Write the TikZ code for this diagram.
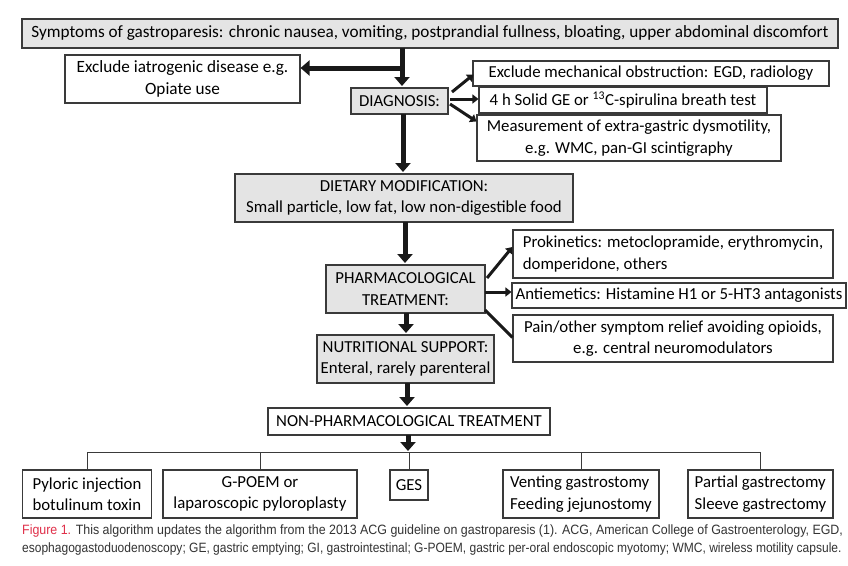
\documentclass[tikz,border=0pt]{standalone}
\usepackage{fontspec}
\setmainfont{Carlito}
\newfontfamily\capfonta[FakeStretch=0.92]{Liberation Sans}
\newfontfamily\capfontb[FakeStretch=0.89]{Liberation Sans}
\usetikzlibrary{arrows.meta,calc}
\definecolor{boxgray}{HTML}{E4E4E4}
\definecolor{edge}{HTML}{3A3A3A}
\definecolor{capred}{HTML}{E0304A}
\definecolor{captext}{HTML}{333333}
\begin{document}
\begin{tikzpicture}[x=1pt,y=-1pt,
  every node/.style={font=\fontsize{16.8}{21.5}\selectfont, inner sep=2pt},
  gbox/.style={draw=edge, line width=1.1pt, fill=boxgray, align=center},
  wbox/.style={draw=edge, line width=1.1pt, fill=white, align=center},
  bigarrow/.style={line width=5pt, draw=black!90, -{Triangle[length=9pt,width=15pt]}},
  thinarrow/.style={line width=3pt, draw=black!90, -{Triangle[length=6pt,width=9pt]}},
  busline/.style={line width=0.8pt, draw=edge},
  captext/.style={anchor=west, inner sep=0pt, text=captext}]
\useasboundingbox (0,0) rectangle (848,565);
\fill[white] (0,0) rectangle (848,565);

\node[gbox, minimum width=816pt, minimum height=29pt, font=\fontsize{17.2}{21}\selectfont] (top) at (430,33.5)
  {Symptoms of gastroparesis: chronic nausea, vomiting, postprandial fullness, bloating, upper abdominal discomfort};
\node[wbox, minimum width=235pt, minimum height=48pt, font=\fontsize{17.2}{22}\selectfont] (iatro) at (182.5,79)
  {Exclude iatrogenic disease e.g.\\Opiate use};
\node[gbox, minimum width=97pt, minimum height=26pt] (diag) at (399.5,101) {DIAGNOSIS:};
\node[wbox, minimum width=356pt, minimum height=25pt] (mech) at (651,73.5)
  {Exclude mechanical obstruction: EGD, radiology};
\node[wbox, minimum width=288pt, minimum height=26pt] (ge) at (623,100)
  {4 h Solid GE or \textsuperscript{13}C-spirulina breath test};
\node[wbox, minimum width=304pt, minimum height=46pt] (meas) at (629,138)
  {Measurement of extra-gastric dysmotility,\\e.g. WMC, pan-GI scintigraphy};
\node[gbox, minimum width=338pt, minimum height=48pt] (diet) at (404,198)
  {DIETARY MODIFICATION:\\Small particle, low fat, low non-digestible food};
\node[gbox, minimum width=159pt, minimum height=48pt] (pharma) at (405.5,289)
  {PHARMACOLOGICAL\\TREATMENT:};
\node[wbox, minimum width=320pt, minimum height=48pt, align=left] (proki) at (673,254)
  {Prokinetics: metoclopramide, erythromycin,\\domperidone, others};
\node[wbox, minimum width=334pt, minimum height=25pt] (anti) at (679,295.5)
  {Antiemetics: Histamine H1 or 5-HT3 antagonists};
\node[wbox, minimum width=320pt, minimum height=47pt] (pain) at (673,338.5)
  {Pain/other symptom relief avoiding opioids,\\e.g. central neuromodulators};
\node[gbox, minimum width=177pt, minimum height=48pt] (nutri) at (405.5,359)
  {NUTRITIONAL SUPPORT:\\Enteral, rarely parenteral};
\node[wbox, minimum width=282pt, minimum height=27pt] (nonph) at (409,421.5)
  {NON-PHARMACOLOGICAL TREATMENT};

\node[wbox, minimum width=129pt, minimum height=48pt, align=left] (pyl) at (87,494)
  {Pyloric injection\\botulinum toxin};
\node[wbox, minimum width=194pt, minimum height=48pt] (gpoem) at (260,494)
  {G-POEM or\\laparoscopic pyloroplasty};
\node[wbox, minimum width=38pt, minimum height=30pt] (ges) at (409,485) {GES};
\node[wbox, minimum width=156pt, minimum height=48pt, align=left] (vent) at (581,494)
  {Venting gastrostomy\\Feeding jejunostomy};
\node[wbox, minimum width=145pt, minimum height=48pt, align=left] (part) at (760.5,494)
  {Partial gastrectomy\\Sleeve gastrectomy};

% main spine
\coordinate (branch) at (402,68);
\draw[bigarrow] (402,48) -- (402,86);
\draw[bigarrow] (branch) -- (iatro.east |- branch);
\draw[bigarrow] (403,114) -- (403,172);
\draw[bigarrow] (405,222) -- (405,263);
\draw[bigarrow] (406,313) -- (406,333);
\draw[bigarrow] (407,383) -- (407,406);
\draw[bigarrow] (408,435) -- (408,451);

% diagnosis branches
\coordinate (d1) at (452,92);
\coordinate (d2) at (450,99);
\coordinate (d3) at (450,104);
\draw[thinarrow] (d1) -- ($(mech.south west)+(1,-12)$);
\draw[thinarrow] (d2) -- (ge.west |- d2);
\draw[thinarrow] (d3) -- ($(meas.north west)+(0,7)$);

% pharmacological branches
\coordinate (p1) at (487,278);
\coordinate (p2) at (485,292);
\coordinate (p3) at (485,310);
\draw[thinarrow] (p1) -- ($(proki.west)+(0,-7)$);
\draw[thinarrow] (p2) -- (anti.west |- p2);
\draw[line width=3pt, draw=black!90] (p3) -- ($(pain.west)+(0,-1)$);

% bus
\coordinate (bus) at (0,452);
\draw[busline] (pyl.north) -- (pyl.north |- bus) -- (part.north |- bus) -- (part.north);
\draw[busline] (gpoem.north) -- (gpoem.north |- bus);
\draw[busline] (ges.north) -- (ges.north |- bus);
\draw[busline] (vent.north) -- (vent.north |- bus);

% caption
\node[captext, font=\capfonta\fontsize{13.5}{16}\selectfont] (cap1) at (22,531)
  {\textcolor{capred}{Figure 1.} This algorithm updates the algorithm from the 2013 ACG guideline on gastroparesis (1). ACG, American College of Gastroenterology, EGD,};
\node[captext, font=\capfontb\fontsize{13.5}{16}\selectfont] (cap2) at (22,549)
  {esophagogastoduodenoscopy; GE, gastric emptying; GI, gastrointestinal; G-POEM, gastric per-oral endoscopic myotomy; WMC, wireless motility capsule.};
\end{tikzpicture}
\end{document}
